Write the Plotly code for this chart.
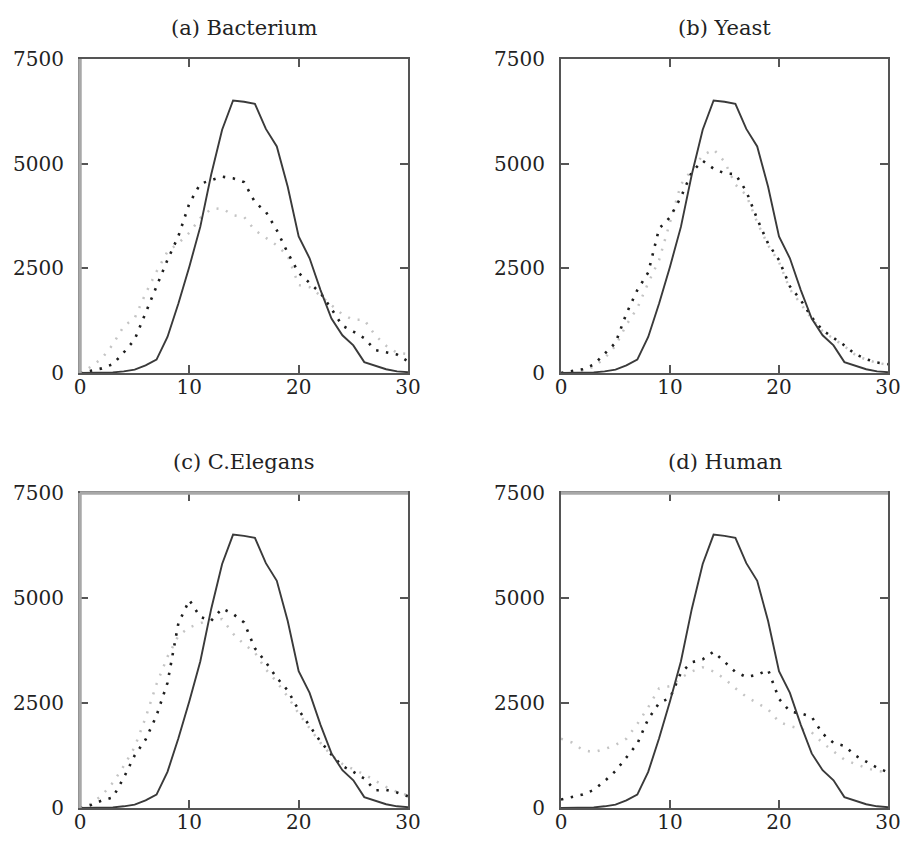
import plotly.graph_objects as go

# Positions 0..30 shared by every panel
k = list(range(31))

# Reference curve (solid), identical in all four panels
reference = [0, 0, 0, 15, 40, 80, 180, 320, 860, 1660, 2540, 3490, 4740, 5810, 6510, 6480,
             6430, 5830, 5410, 4450, 3260, 2740, 1980, 1300, 900, 660, 260, 175, 90, 40, 20]

# Dark dotted series per organism
bacterium_dark = [0, 50, 110, 210, 490, 800, 1420, 2060, 2700, 3270, 4050, 4520, 4610, 4690, 4650, 4560,
                  4080, 3850, 3410, 2870, 2390, 2140, 1910, 1530, 1130, 990, 830, 550, 490, 440, 280]
yeast_dark = [0, 40, 90, 200, 450, 720, 1420, 1980, 2400, 3450, 3720, 4200, 4800, 5070, 4880, 4770,
              4750, 4340, 3680, 3090, 2700, 2070, 1740, 1330, 1020, 850, 660, 450, 330, 250, 210]
elegans_dark = [0, 70, 180, 250, 720, 1250, 1630, 2200, 2980, 4400, 4950, 4550, 4460, 4750, 4620, 4420,
                3800, 3470, 3100, 2800, 2330, 1950, 1580, 1270, 1000, 860, 700, 420, 430, 370, 280]
human_dark = [200, 260, 320, 430, 640, 880, 1200, 1530, 2120, 2500, 2620, 3220, 3470, 3540, 3720, 3480,
              3240, 3120, 3170, 3290, 2600, 2300, 2250, 2170, 1770, 1550, 1480, 1250, 1100, 960, 850]

# Light dotted series per organism
bacterium_light = [0, 150, 350, 680, 1120, 1310, 1900, 2420, 2900, 3100, 3350, 3700, 3920, 3930, 3770, 3730,
                   3410, 3220, 3050, 2800, 2100, 2050, 1850, 1620, 1400, 1270, 1270, 900, 650, 480, 450]
yeast_light = [0, 20, 60, 150, 350, 650, 1150, 1550, 2150, 2700, 3600, 4500, 4850, 5200, 5340, 5050,
               4500, 4250, 3600, 3050, 2650, 2000, 1650, 1300, 1000, 830, 640, 430, 320, 240, 200]
elegans_light = [0, 100, 300, 600, 1000, 1450, 2150, 2950, 3600, 4100, 4300, 4400, 4480, 4500, 4150, 3900,
                 3700, 3300, 3000, 2650, 2250, 1900, 1550, 1250, 1050, 920, 800, 650, 500, 380, 300]
human_light = [1650, 1560, 1380, 1330, 1400, 1500, 1650, 2000, 2400, 2850, 2900, 3100, 3250, 3350, 3250, 3080,
               2850, 2650, 2500, 2350, 2050, 1950, 1880, 1800, 1550, 1350, 1150, 1050, 950, 880, 850]

titles = ["(a) Bacterium", "(b) Yeast", "(c) C.Elegans", "(d) Human"]
dark_sets = [bacterium_dark, yeast_dark, elegans_dark, human_dark]
light_sets = [bacterium_light, yeast_light, elegans_light, human_light]

x_ticks = [0, 10, 20, 30]
y_ticks = [0, 2500, 5000, 7500]

W, H = 901, 850
# panel boxes in pixels: (left, right, top, bottom)
boxes = [(80, 408, 59, 373), (561, 888, 59, 373), (80, 408, 493, 808), (561, 888, 493, 808)]

FONT = "DejaVu Serif"
fig = go.Figure()

for i, (title, dk, lt, box) in enumerate(zip(titles, dark_sets, light_sets, boxes)):
    n = "" if i == 0 else str(i + 1)
    xa, ya = "x" + n, "y" + n
    fig.add_trace(go.Scatter(x=k, y=lt, mode="lines", xaxis=xa, yaxis=ya,
                             line=dict(color="#c4c4c4", width=2.5, dash="2px,8px")))
    fig.add_trace(go.Scatter(x=k, y=dk, mode="lines", xaxis=xa, yaxis=ya,
                             line=dict(color="#1e1e1e", width=2.6, dash="2.4px,7.6px")))
    fig.add_trace(go.Scatter(x=k, y=reference, mode="lines", xaxis=xa, yaxis=ya,
                             line=dict(color="#3a3a3a", width=1.9)))

    l, r, t, b = box
    axis_common = dict(showline=True, linecolor="#555555", linewidth=2, mirror="allticks",
                       ticks="inside", ticklen=8, tickwidth=1.5, tickcolor="#555555",
                       showgrid=False, zeroline=False, automargin=False,
                       tickfont=dict(family=FONT, size=20, color="#222222"))
    fig.layout["xaxis" + n] = dict(domain=[l / W, r / W], range=[0, 30], tickvals=x_ticks,
                                   anchor=ya, ticklabelstandoff=-5, **axis_common)
    fig.layout["yaxis" + n] = dict(domain=[1 - b / H, 1 - t / H], range=[0, 7500], tickvals=y_ticks,
                                   anchor=xa, ticklabelstandoff=10, **axis_common)
    fig.add_annotation(text=title, xref="paper", yref="paper", x=(l + r) / 2 / W,
                       y=1 - (t - 31) / H, xanchor="center", yanchor="middle", showarrow=False,
                       font=dict(family=FONT, size=21, color="#222222"))

# heavier grey frame edges on the left column and along the lower row's top
edge = dict(type="line", xref="paper", yref="paper", layer="above",
            line=dict(color="#a8a8a8", width=3.5))
for (l, r, t, b) in (boxes[0], boxes[2]):
    fig.add_shape(x0=l / W, x1=l / W, y0=1 - b / H, y1=1 - t / H, **edge)
for (l, r, t, b) in (boxes[2], boxes[3]):
    fig.add_shape(x0=l / W, x1=r / W, y0=1 - t / H, y1=1 - t / H, **edge)

fig.update_layout(width=W, height=H, margin=dict(l=0, r=0, t=0, b=0), showlegend=False,
                  paper_bgcolor="white", plot_bgcolor="white")

fig.write_html("out.html")
